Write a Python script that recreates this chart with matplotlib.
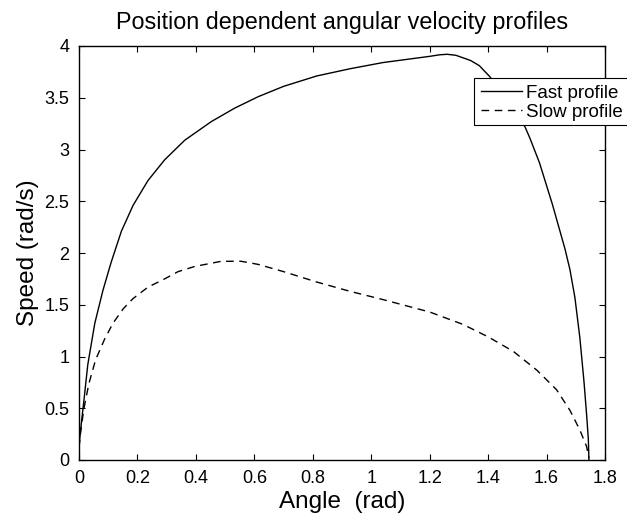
import numpy as np
import matplotlib.pyplot as plt
from matplotlib.patches import Rectangle

plt.rcParams['font.family'] = ['Liberation Sans', 'DejaVu Sans']

# angle (rad) and speed (rad/s)
fast_angle = [0.0, 0.003, 0.009, 0.017, 0.030, 0.054, 0.082, 0.110, 0.145, 0.185,
              0.236, 0.293, 0.362, 0.453, 0.533, 0.613, 0.70, 0.813, 0.927, 1.04,
              1.12, 1.20, 1.234, 1.26, 1.29, 1.31, 1.34, 1.37, 1.407, 1.46,
              1.526, 1.543, 1.576, 1.62, 1.663, 1.68, 1.697, 1.714, 1.728, 1.737,
              1.743, 1.745]
fast_speed = [0.12, 0.22, 0.38, 0.58, 0.92, 1.32, 1.64, 1.91, 2.21, 2.46,
              2.70, 2.90, 3.09, 3.27, 3.40, 3.51, 3.61, 3.71, 3.78, 3.84,
              3.87, 3.90, 3.915, 3.92, 3.91, 3.89, 3.86, 3.81, 3.70, 3.50,
              3.22, 3.11, 2.87, 2.47, 2.04, 1.84, 1.57, 1.18, 0.76, 0.44,
              0.20, 0.0]

slow_angle = [0.0, 0.006, 0.017, 0.034, 0.057, 0.088, 0.116, 0.151, 0.185, 0.236,
              0.293, 0.339, 0.396, 0.487, 0.555, 0.613, 0.70, 0.813, 0.927, 1.04,
              1.20, 1.314, 1.40, 1.486, 1.566, 1.634, 1.68, 1.714, 1.737, 1.745]
slow_speed = [0.12, 0.28, 0.50, 0.74, 0.97, 1.17, 1.32, 1.46, 1.56, 1.67,
              1.75, 1.82, 1.87, 1.92, 1.92, 1.89, 1.82, 1.72, 1.63, 1.55,
              1.43, 1.31, 1.19, 1.05, 0.87, 0.68, 0.48, 0.29, 0.13, 0.02]

fig = plt.figure(figsize=(6.27, 5.15), dpi=100)
ax = fig.add_axes([79/627, 55/515, 526/627, 414/515])

ax.plot(fast_angle, fast_speed, color='black', lw=1.0, label='Fast profile')
ax.plot(slow_angle, slow_speed, color='black', lw=1.0, dashes=(5.5, 4.0),
        label='Slow profile')

ax.set_xlim(0, 1.8)
ax.set_ylim(0, 4)
ax.set_xticks(np.arange(0, 1.81, 0.2))
ax.set_yticks(np.arange(0, 4.01, 0.5))
ax.set_xticklabels(['0', '0.2', '0.4', '0.6', '0.8', '1', '1.2', '1.4', '1.6', '1.8'])
ax.set_yticklabels(['0', '0.5', '1', '1.5', '2', '2.5', '3', '3.5', '4'])
ax.tick_params(direction='in', length=4, width=0.8, labelsize=13, pad=7,
               top=True, right=True)
for s in ax.spines.values():
    s.set_linewidth(1.0)

ax.set_title('Position dependent angular velocity profiles', fontsize=16.8, pad=12)
ax.set_xlabel('Angle  (rad)', fontsize=17.5, labelpad=3)
ax.set_ylabel('Speed (rad/s)', fontsize=17.5, labelpad=4)

# legend box runs past the right edge of the figure, as in the reference,
# so its frame is drawn separately
box = Rectangle((395/526, 335/414), 0.4, 47/414, transform=ax.transAxes,
                facecolor='white', edgecolor='black', lw=0.8, clip_on=False,
                zorder=4)
ax.add_patch(box)
leg = ax.legend(loc='upper left', bbox_to_anchor=(395/526, 1 - 32/414),
                fontsize=13.5, frameon=False, handlelength=2.2,
                handletextpad=0.2, borderpad=0.35, labelspacing=0.1,
                borderaxespad=0.0)
leg.set_zorder(5)

fig.savefig('out.png', dpi=100)
